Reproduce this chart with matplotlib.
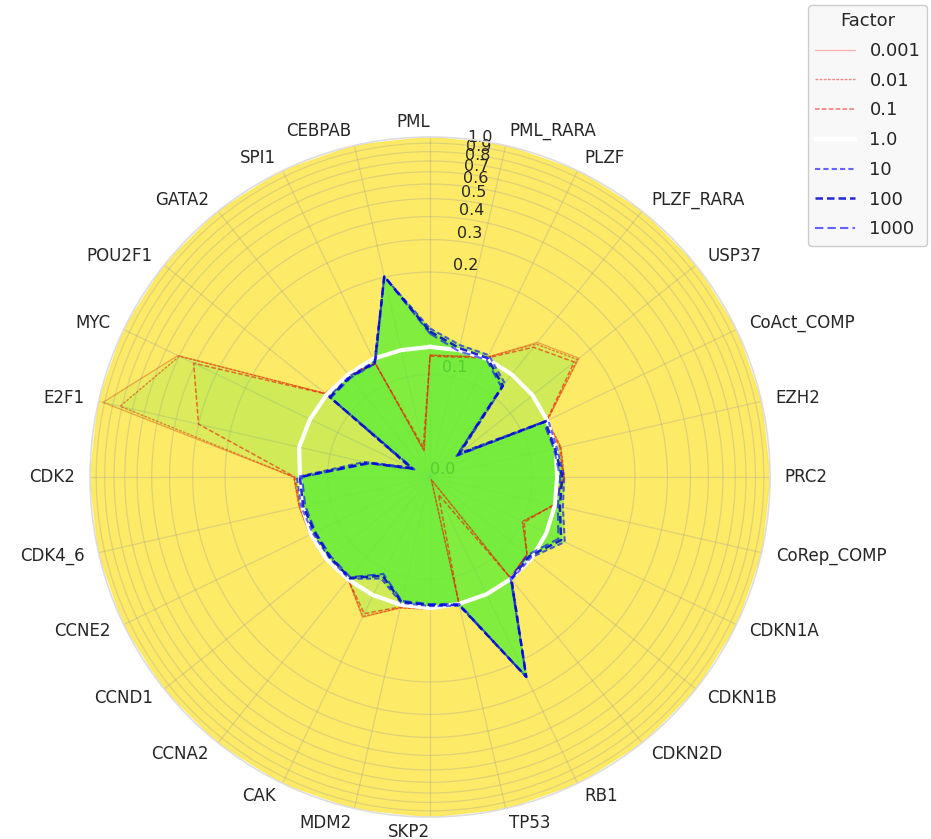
import numpy as np
import matplotlib
matplotlib.use('Agg')
import matplotlib.pyplot as plt

categories = ['PML', 'PML_RARA', 'PLZF', 'PLZF_RARA', 'USP37', 'CoAct_COMP', 'EZH2',
              'PRC2', 'CoRep_COMP', 'CDKN1A', 'CDKN1B', 'CDKN2D', 'RB1', 'TP53',
              'SKP2', 'MDM2', 'CAK', 'CCNA2', 'CCND1', 'CCNE2', 'CDK4_6', 'CDK2',
              'E2F1', 'MYC', 'POU2F1', 'GATA2', 'SPI1', 'CEBPAB']

factors = ['0.001', '0.01', '0.1', '1.0', '10', '100', '1000']

f_0001 = [0.119, 0.121, 0.130, 0.168, 0.186, 0.127, 0.131, 0.131, 0.124, 0.100,
          0.121, 0.126, 0.003, 0.126, 0.129, 0.131, 0.152, 0.128, 0.129, 0.130,
          0.131, 0.133, 1.02, 0.51, 0.131, 0.127, 0.123, 0.026]
f_001 = [0.119, 0.121, 0.130, 0.166, 0.184, 0.127, 0.131, 0.131, 0.124, 0.100,
         0.121, 0.126, 0.003, 0.126, 0.129, 0.131, 0.151, 0.128, 0.129, 0.130,
         0.131, 0.133, 0.82, 0.50, 0.131, 0.127, 0.123, 0.026]
f_01 = [0.118, 0.120, 0.129, 0.162, 0.180, 0.126, 0.130, 0.130, 0.123, 0.102,
        0.121, 0.126, 0.019, 0.126, 0.128, 0.130, 0.148, 0.128, 0.128, 0.129,
        0.130, 0.132, 0.30, 0.41, 0.130, 0.127, 0.123, 0.030]
f_1 = [0.127, 0.127, 0.128, 0.128, 0.128, 0.127, 0.126, 0.124, 0.125, 0.126,
       0.127, 0.127, 0.127, 0.127, 0.128, 0.128, 0.128, 0.128, 0.129, 0.129,
       0.128, 0.127, 0.131, 0.130, 0.129, 0.128, 0.128, 0.127]
f_10 = [0.145, 0.132, 0.132, 0.117, 0.038, 0.128, 0.127, 0.131, 0.133, 0.146,
        0.126, 0.128, 0.245, 0.129, 0.126, 0.126, 0.110, 0.127, 0.126, 0.127,
        0.129, 0.130, 0.066, 0.022, 0.126, 0.126, 0.125, 0.201]
f_100 = [0.142, 0.129, 0.129, 0.114, 0.035, 0.125, 0.125, 0.129, 0.130, 0.142,
         0.124, 0.127, 0.247, 0.128, 0.125, 0.125, 0.107, 0.126, 0.125, 0.125,
         0.127, 0.127, 0.062, 0.019, 0.125, 0.125, 0.124, 0.202]
f_1000 = [0.140, 0.126, 0.127, 0.112, 0.033, 0.123, 0.124, 0.127, 0.128, 0.139,
          0.122, 0.126, 0.248, 0.127, 0.124, 0.124, 0.105, 0.125, 0.124, 0.124,
          0.125, 0.125, 0.060, 0.017, 0.124, 0.124, 0.123, 0.203]

r_ticks = [0.0, 0.1, 0.2, 0.3, 0.4, 0.5, 0.6, 0.7, 0.8, 0.9, 1.0]
r_max = 1.08

series = [f_0001, f_001, f_01, f_1, f_10, f_100, f_1000]
line_styles = [
    dict(color='red', alpha=0.3, lw=0.9, ls='-'),
    dict(color='red', alpha=0.45, lw=1.0, ls=(0, (2, 1))),
    dict(color='red', alpha=0.55, lw=1.1, ls=(0, (3, 1.5))),
    dict(color='white', alpha=1.0, lw=3.0, ls='-'),
    dict(color='blue', alpha=0.6, lw=1.5, ls=(0, (2.5, 1.5))),
    dict(color='#0000cc', alpha=0.85, lw=1.8, ls=(0, (3, 1.6))),
    dict(color='blue', alpha=0.6, lw=1.5, ls=(0, (4, 2))),
]
fill_alpha = [0.1, 0.1, 0.1, 0.0, 0.4, 0.4, 0.4]

N = len(categories)
angles = np.linspace(0, 2 * np.pi, N, endpoint=False)
ang_c = np.append(angles, angles[0])

fig = plt.figure(figsize=(9.31, 8.39), dpi=100)
ax = fig.add_axes([0.0967, 0.0262, 0.7304, 0.8105], polar=True)
ax.set_theta_zero_location('N')
ax.set_theta_direction(-1)
ax.set_rscale('symlog', linthresh=0.2)
ax.set_rlim(0, r_max)

# yellow backdrop out to the edge
ax.fill(ang_c, [r_max] * (N + 1), color='#fde74c', alpha=0.85, zorder=1)

for vals, name, st, fa in zip(series, factors, line_styles, fill_alpha):
    v = np.append(vals, vals[0])
    ax.plot(ang_c, v, label=name, zorder=3, **st)
    if fa > 0:
        ax.fill(ang_c, v, color='#5eef35', alpha=fa, zorder=2)

ax.set_xticks(angles)
ax.set_xticklabels(categories, fontsize=12, color='#262626')
for i, lbl in enumerate(ax.get_xticklabels()):
    if 0 < i < N / 2:
        lbl.set_horizontalalignment('left')
    else:
        lbl.set_horizontalalignment('right')
ax.tick_params(axis='x', pad=0)

ax.set_yticks(r_ticks)
ax.set_yticklabels(['%.1f' % t for t in r_ticks], fontsize=11.5, color='#262626')
ax.set_rlabel_position(360 / N / 2)

ax.grid(color='#999999', lw=0.9, alpha=0.3)
ax.spines['polar'].set_color('#dddddd')
ax.spines['polar'].set_linewidth(1.2)

leg = ax.legend(title='Factor', loc='upper left', bbox_to_anchor=(808 / 931, 1 - 5 / 839),
                bbox_transform=fig.transFigure, borderaxespad=0, fontsize=13,
                title_fontsize=13, handlelength=2.2, labelspacing=0.65,
                facecolor='#f8f8f8', framealpha=1, edgecolor='#cccccc')
for t in leg.get_texts():
    t.set_color('#262626')
leg.get_title().set_color('#262626')

fig.savefig('out.png', dpi=100)
